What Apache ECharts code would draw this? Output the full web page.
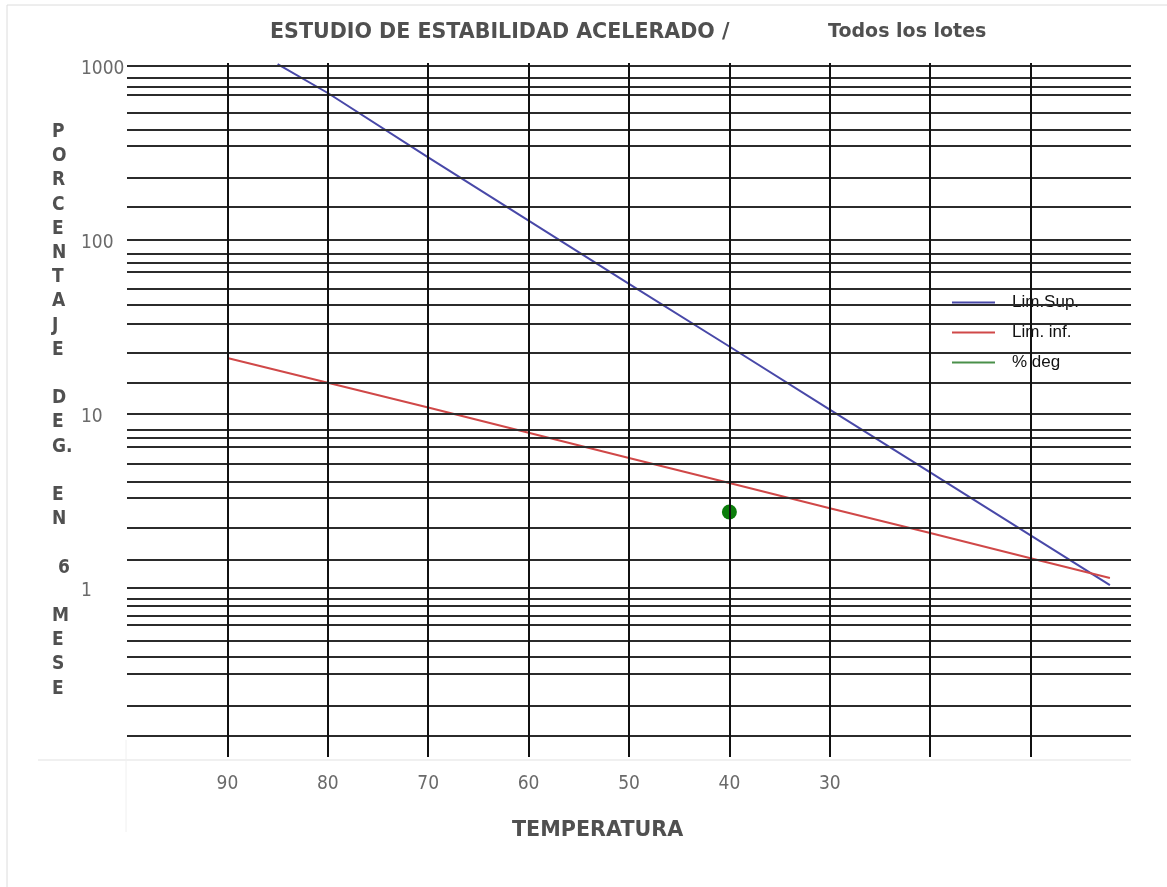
<!DOCTYPE html>
<html>
<head>
<meta charset="utf-8">
<script src="https://cdn.jsdelivr.net/npm/echarts@6/dist/echarts.min.js"></script>
<style>
html,body{margin:0;padding:0;background:#fff;}
#chart{width:1167px;height:887px;}
</style>
</head>
<body>
<div id="chart"></div>
<script>
// ---- data ----
const titleMain = 'ESTUDIO DE ESTABILIDAD ACELERADO /';
const titleSub = 'Todos los lotes';
const xAxisName = 'TEMPERATURA';
const yAxisNameLetters = ['P','O','R','C','E','N','T','A','J','E','','D','E','G.','','E','N','',' 6','','M','E','S','E'];

const xGridTicks = [90, 80, 70, 60, 50, 40, 30, 20, 10];
const xTickLabels = [90, 80, 70, 60, 50, 40, 30];
const yTickLabels = [1, 10, 100, 1000];
const yGridValues = [1000, 848.6, 753.4, 681.3, 534.1, 428.8, 343.8, 225.9, 153.3,
  100, 83.1, 73.4, 65.5, 52.3, 41.9, 32.9, 22.3, 15.0,
  10, 8.02, 7.28, 6.43, 5.16, 4.05, 3.25, 2.20, 1.435,
  1, 0.865, 0.781, 0.693, 0.615, 0.493, 0.396, 0.3176, 0.2107, 0.1416];

const seriesNames = ['Lim.Sup.', 'Lim. inf.', '% deg'];
const limSupTemp = [85, 80, 70, 60, 50, 40, 30, 20, 10, 2.1];
const limSupVal  = [1017, 693, 296, 128, 55.5, 24.2, 10.5, 4.58, 1.99, 1.03];
const limInfTemp = [90, 80, 70, 60, 50, 40, 30, 20, 10, 2.1];
const limInfVal  = [20.8, 15.0, 10.8, 7.73, 5.54, 3.98, 2.85, 2.05, 1.47, 1.13];
const degTemp = [40];
const degVal  = [2.71];

// ---- chart ----
const chart = echarts.init(document.getElementById('chart'), null, {renderer: 'canvas'});
const pair = (xs, ys) => xs.map((x, i) => [x, ys[i]]);

const option = {
  animation: false,
  backgroundColor: '#fff',
  grid: {left: 127, right: 36, top: 63, bottom: 130, containLabel: false},
  xAxis: {
    type: 'value', inverse: true, min: 0, max: 100, interval: 10,
    axisLine: {show: false}, axisTick: {show: false}, splitLine: {show: false},
    axisLabel: {
      margin: 18, color: '#6a6a6a', fontSize: 19,
      fontFamily: 'DejaVu Sans Condensed, DejaVu Sans',
      formatter: v => xTickLabels.includes(v) ? String(v) : ''
    }
  },
  yAxis: {
    type: 'log', logBase: 10, min: 0.1059, max: 1030.8,
    axisLine: {show: false}, axisTick: {show: false}, splitLine: {show: false},
    axisLabel: {
      margin: 46, align: 'left', verticalAlign: 'top', lineHeight: 8,
      color: '#6a6a6a', fontSize: 19,
      fontFamily: 'DejaVu Sans Condensed, DejaVu Sans',
      showMinLabel: false, showMaxLabel: false,
      formatter: v => {
        const m = yTickLabels.find(t => Math.abs(Math.log10(v) - Math.log10(t)) < 1e-4);
        return m !== undefined ? String(m) : '';
      }
    }
  },
  legend: {
    orient: 'vertical', left: 934, top: 277,
    backgroundColor: '#fff', padding: [17, 56, 11, 18],
    itemWidth: 43, itemHeight: 2, itemGap: 13, icon: 'rect',
    selectedMode: false,
    textStyle: {fontFamily: 'Liberation Sans, Arial', fontSize: 17, color: '#111', lineHeight: 16, padding: [0, 0, 0, 12]},
    data: [
      {name: seriesNames[0]},
      {name: seriesNames[1]},
      {name: seriesNames[2], itemStyle: {color: '#4a904a'}}
    ]
  },
  graphic: [
    {type: 'line', silent: true, shape: {x1: 7, y1: 5, x2: 7, y2: 887}, style: {stroke: '#dcdcdc', lineWidth: 1}},
    {type: 'line', silent: true, shape: {x1: 7, y1: 5, x2: 1167, y2: 5}, style: {stroke: '#dcdcdc', lineWidth: 1}},
    {type: 'line', silent: true, shape: {x1: 38, y1: 760, x2: 1131, y2: 760}, style: {stroke: '#f0f0f0', lineWidth: 2}},
    {type: 'line', silent: true, shape: {x1: 126, y1: 740, x2: 126, y2: 832}, style: {stroke: '#f0f0f0', lineWidth: 1}},
    {type: 'text', left: 270, top: 22, style: {text: titleMain, fill: '#505050', font: 'bold 20.6px "DejaVu Sans"'}},
    {type: 'text', left: 828, top: 23, style: {text: titleSub, fill: '#505050', font: 'bold 19px "DejaVu Sans"'}},
    {type: 'text', left: 512, top: 820, style: {text: xAxisName, fill: '#505050', font: 'bold 20.7px "DejaVu Sans"'}},
    {type: 'text', left: 52, top: 120, style: {
      text: yAxisNameLetters.join('\n'), fill: '#505050',
      font: 'bold 19px "DejaVu Sans Condensed", "DejaVu Sans"', lineHeight: 24.2
    }}
  ],
  series: [
    {
      name: 'grid', type: 'line', data: [], silent: true, z: 1,
      markLine: {
        silent: true, symbol: 'none', animation: false,
        label: {show: false}, emphasis: {disabled: true},
        data: [
          ...yGridValues.map(v => ({yAxis: v, lineStyle: {color: '#2b2b2b', width: 2, type: 'solid'}})),
          ...xGridTicks.map(v => ({xAxis: v, lineStyle: {color: '#111', width: 2, type: 'solid'}}))
        ]
      }
    },
    {
      name: seriesNames[0], type: 'line', data: pair(limSupTemp, limSupVal), z: 3,
      symbol: 'none', color: '#4848a8', lineStyle: {width: 2, color: '#4848a8'}
    },
    {
      name: seriesNames[1], type: 'line', data: pair(limInfTemp, limInfVal), z: 3,
      symbol: 'none', color: '#d04848', lineStyle: {width: 2, color: '#d04848'}
    },
    {
      name: seriesNames[2], type: 'scatter', data: pair(degTemp, degVal), z: 4,
      symbol: 'circle', symbolSize: 15, itemStyle: {color: '#0b7d0b', opacity: 1}
    }
  ]
};
chart.setOption(option);
</script>
</body>
</html>
